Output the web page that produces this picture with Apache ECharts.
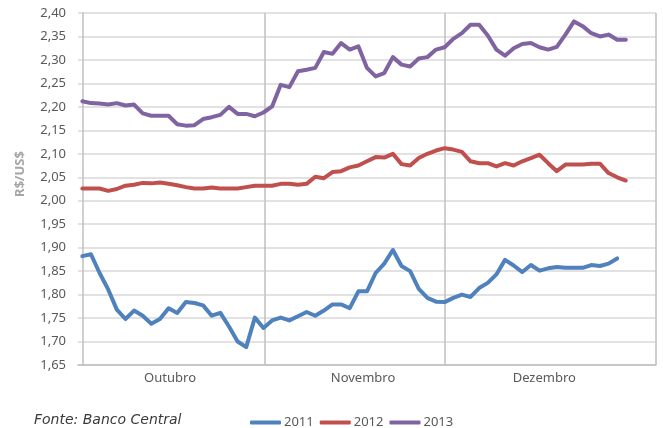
<!DOCTYPE html>
<html>
<head>
<meta charset="utf-8">
<script src="https://cdn.jsdelivr.net/npm/echarts@6/dist/echarts.min.js"></script>
<style>
  html, body { margin: 0; padding: 0; background: #fff; }
  #main { width: 663px; height: 428px; }
</style>
</head>
<body>
<div id="main"></div>
<script>
// daily quotes, one value per business day, Oct-Dec
var years = ['2011', '2012', '2013'];
var months = ['Outubro', 'Novembro', 'Dezembro'];

var rate2011 = [
  1.882, 1.886, 1.846, 1.811, 1.768, 1.748, 1.766, 1.755, 1.738, 1.748, 1.771,
  1.761, 1.784, 1.782, 1.777, 1.755, 1.761, 1.732, 1.700, 1.688, 1.751, 1.729,
  1.745, 1.751, 1.745, 1.754, 1.763, 1.755, 1.766, 1.779, 1.779, 1.771, 1.807,
  1.807, 1.846, 1.866, 1.895, 1.861, 1.850, 1.812, 1.793, 1.785, 1.784,
  1.793, 1.800, 1.795, 1.814, 1.825, 1.843, 1.874, 1.862, 1.848, 1.863, 1.851,
  1.856, 1.859, 1.857, 1.857, 1.857, 1.863, 1.861, 1.866, 1.877
];
var rate2012 = [
  2.026, 2.026, 2.026, 2.021, 2.025, 2.032, 2.034, 2.038, 2.037, 2.039, 2.036,
  2.033, 2.029, 2.026, 2.026, 2.028, 2.026, 2.026, 2.026, 2.029, 2.032, 2.032,
  2.032, 2.036, 2.036, 2.034, 2.036, 2.051, 2.048, 2.061, 2.063,
  2.071, 2.075, 2.084, 2.093, 2.092, 2.100, 2.078, 2.075, 2.091, 2.100, 2.107,
  2.112, 2.109, 2.104, 2.084, 2.080, 2.080, 2.073, 2.080, 2.075, 2.084, 2.091,
  2.098, 2.080, 2.063, 2.077, 2.077, 2.077, 2.079, 2.079, 2.059, 2.050, 2.043
];
var rate2013 = [
  2.212, 2.208, 2.207, 2.205, 2.208, 2.203, 2.205, 2.186, 2.181, 2.181, 2.181,
  2.163, 2.160, 2.161, 2.174, 2.178, 2.183, 2.200, 2.185, 2.185, 2.180, 2.188,
  2.201, 2.247, 2.242, 2.276, 2.279, 2.283,
  2.317, 2.313, 2.336, 2.322, 2.329, 2.283, 2.265, 2.272, 2.306, 2.290, 2.286,
  2.303, 2.306, 2.322, 2.327, 2.345, 2.357, 2.375, 2.375, 2.352, 2.322, 2.309,
  2.325, 2.334, 2.336, 2.327, 2.322, 2.328, 2.354, 2.382, 2.372, 2.357, 2.350,
  2.354, 2.343, 2.343
];

// where the month dividers and month names sit on the day index axis
var monthDividers = [21.17, 41.98, 66.5];
var monthLabelAt = [10.17, 32.54, 53.55];

function toPoints(arr) {
  return arr.map(function (v, i) { return [i, v]; });
}

var chart = echarts.init(document.getElementById('main'));
var labelColor = '#595959';
var font = '"Noto Sans", sans-serif';

var option = {
  animation: false,
  color: ['#4f81bd', '#c0504d', '#8064a2'],
  textStyle: { fontFamily: font },
  title: {
    text: 'Fonte: Banco Central',
    left: 29,
    top: 408,
    textStyle: {
      fontFamily: '"DejaVu Sans", sans-serif',
      fontStyle: 'italic',
      fontWeight: 'normal',
      fontSize: 14,
      color: '#3a3a3a'
    }
  },
  legend: {
    data: years,
    left: 245,
    top: 411,
    icon: 'roundRect',
    itemWidth: 31,
    itemHeight: 4,
    itemGap: 6,
    textStyle: { fontFamily: font, fontSize: 13, color: labelColor, padding: [0, 0, 0, -2] }
  },
  grid: { left: 78, right: 7, top: 13, bottom: 63 },
  xAxis: {
    type: 'value',
    min: -0.5,
    max: 66.5,
    axisLine: { show: true, lineStyle: { color: '#bfbfbf', width: 1.5 } },
    axisTick: { show: false, customValues: monthDividers },
    splitLine: { show: true, lineStyle: { color: '#bfbfbf', width: 1.5 } },
    axisLabel: {
      customValues: monthLabelAt,
      margin: 7,
      fontSize: 13,
      color: labelColor,
      formatter: function (v) {
        var best = 0;
        for (var k = 1; k < monthLabelAt.length; k++) {
          if (Math.abs(monthLabelAt[k] - v) < Math.abs(monthLabelAt[best] - v)) best = k;
        }
        return months[best];
      }
    }
  },
  yAxis: {
    type: 'value',
    min: 1.65,
    max: 2.40,
    interval: 0.05,
    name: 'R$/US$',
    nameLocation: 'middle',
    nameGap: 51,
    nameTextStyle: {
      fontFamily: font,
      fontSize: 13,
      fontWeight: 'bold',
      color: '#a6a6a6',
      padding: [0, 0, 0, 30]
    },
    axisLine: { show: true, lineStyle: { color: '#bfbfbf', width: 1.5 } },
    axisTick: { show: false },
    splitLine: { lineStyle: { color: '#d9d9d9', width: 1.5 } },
    axisLabel: {
      margin: 12,
      fontSize: 13,
      color: labelColor,
      formatter: function (v) { return v.toFixed(2).replace('.', ','); }
    }
  },
  series: [
    { name: '2011', type: 'line', data: toPoints(rate2011) },
    { name: '2012', type: 'line', data: toPoints(rate2012) },
    { name: '2013', type: 'line', data: toPoints(rate2013) }
  ].map(function (s) {
    s.showSymbol = false;
    s.symbol = 'none';
    s.lineStyle = { width: 4, join: 'round', cap: 'round' };
    return s;
  })
};

chart.setOption(option);
</script>
</body>
</html>
